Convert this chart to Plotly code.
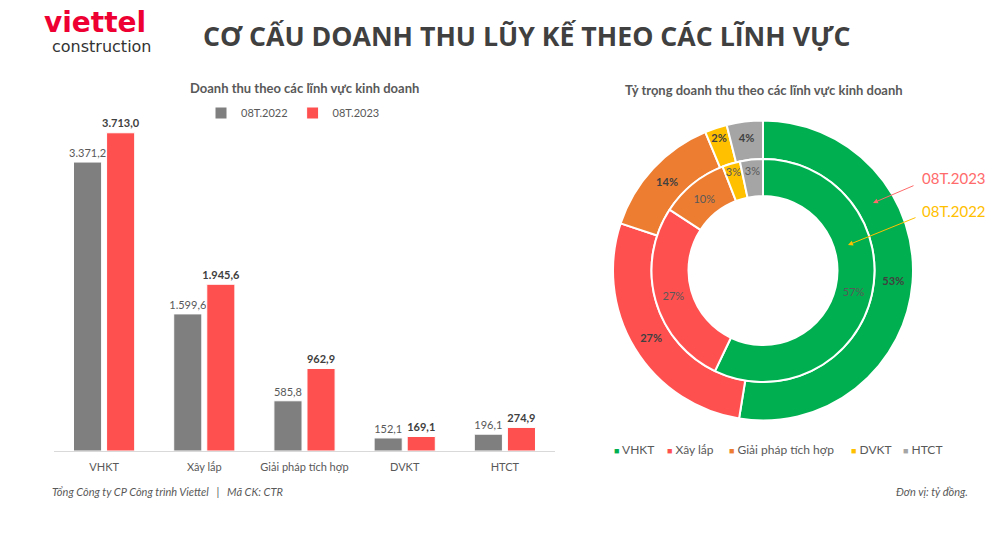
import plotly.graph_objects as go

# ---------------- data ----------------
categories = ["VHKT", "Xây lắp", "Giải pháp tích hợp", "DVKT", "HTCT"]
rev_2022 = [3371.2, 1599.6, 585.8, 152.1, 196.1]
rev_2023 = [3713.0, 1945.6, 962.9, 169.1, 274.9]
pct_2022 = ["57%", "27%", "10%", "3%", "3%"]
pct_2023 = ["53%", "27%", "14%", "2%", "4%"]
series_names = ["08T.2022", "08T.2023"]

W, H = 1000, 535
FONT = "Lato"
GRAY_TXT = "#595959"
DARK_TXT = "#404040"
bar_colors = ["#7f7f7f", "#ff5050"]
pie_colors = ["#00b050", "#ff5050", "#ed7d31", "#ffc000", "#a5a5a5"]


def vn(v):
    s = f"{v:,.1f}"
    return s.replace(",", "X").replace(".", ",").replace("X", ".")


def px(x):
    return x / W


def py(y):
    return 1 - y / H


fig = go.Figure()

# ---------------- bar chart ----------------
fig.add_trace(go.Bar(
    x=categories, y=rev_2022, name=series_names[0],
    marker=dict(color=bar_colors[0], line=dict(color="white", width=1)),
    text=[vn(v) for v in rev_2022], textposition="outside",
    textfont=dict(family=FONT, size=10, color=GRAY_TXT),
    constraintext="none", cliponaxis=False, legend="legend",
    hoverinfo="x+y",
))
fig.add_trace(go.Bar(
    x=categories, y=rev_2023, name=series_names[1],
    marker=dict(color=bar_colors[1], line=dict(color="white", width=1)),
    text=["<b>" + vn(v) + "</b>" for v in rev_2023], textposition="outside",
    textfont=dict(family=FONT, size=12, color=DARK_TXT),
    constraintext="none", cliponaxis=False, legend="legend",
    hoverinfo="x+y",
))

# ---------------- donut chart ----------------
cx, cy = 763, 270.5
r_out, r_mid, r_in = 150, 111.5, 74.5

fig.add_trace(go.Pie(
    labels=categories, values=rev_2023, name=series_names[1],
    hole=r_mid / r_out,
    domain=dict(x=[px(cx - r_out), px(cx + r_out)], y=[py(cy + r_out), py(cy - r_out)]),
    sort=False, direction="clockwise", rotation=0,
    marker=dict(colors=pie_colors, line=dict(color="white", width=2)),
    text=pct_2023, texttemplate="<b>%{text}</b>", textposition="inside",
    insidetextorientation="horizontal",
    textfont=dict(family=FONT, size=12, color=DARK_TXT),
    showlegend=False,
))
fig.add_trace(go.Pie(
    labels=categories, values=rev_2022, name=series_names[0],
    hole=r_in / r_mid,
    domain=dict(x=[px(cx - r_mid), px(cx + r_mid)], y=[py(cy + r_mid), py(cy - r_mid)]),
    sort=False, direction="clockwise", rotation=0,
    marker=dict(colors=pie_colors, line=dict(color="white", width=2)),
    text=pct_2022, texttemplate="%{text}", textposition="inside",
    insidetextorientation="horizontal",
    textfont=dict(family=FONT, size=11, color=GRAY_TXT),
    showlegend=False,
))


def note(text, x, y, size, color, xanchor="center", family=FONT, **kw):
    d = dict(text=text, x=px(x), y=py(y), xref="paper", yref="paper",
             xanchor=xanchor, yanchor="middle", showarrow=False,
             font=dict(family=family, size=size, color=color))
    d.update(kw)
    return d


annotations = [
    # logo
    note("<b>viettel</b>", 42, 22, 28, "#ee0033", xanchor="left", family="DejaVu Sans"),
    note("construction", 50, 46, 16, "#333333", xanchor="left", family="DejaVu Sans"),
    # main title
    note("<b>CƠ CẤU DOANH THU LŨY KẾ THEO CÁC LĨNH VỰC</b>", 527, 35, 26.7, DARK_TXT,
         family="Open Sans"),
    # subtitles
    note("<b>Doanh thu theo các lĩnh vực kinh doanh</b>", 304, 88, 13, GRAY_TXT),
    note("<b>Tỷ trọng doanh thu theo các lĩnh vực kinh doanh</b>", 764, 90, 13, GRAY_TXT),
    # footers
    note("<i>Tổng Công ty CP Công trình Viettel\u00a0\u00a0\u00a0|\u00a0\u00a0\u00a0Mã CK: CTR</i>",
         50, 491, 11, GRAY_TXT, xanchor="left"),
    note("<i>Đơn vị: tỷ đồng.</i>", 970, 491, 11, GRAY_TXT, xanchor="right"),
    # ring labels
    note("08T.2023", 920, 178, 15, "#ff6b6b", xanchor="left"),
    note("08T.2022", 920, 211, 15, "#ffc000", xanchor="left"),
    dict(text="", x=px(873), y=py(203), xref="paper", yref="paper", ax=42, ay=-18,
         showarrow=True, arrowhead=2, arrowsize=1, arrowwidth=1,
         arrowcolor="#ff6b6b", standoff=0),
    dict(text="", x=px(848), y=py(245), xref="paper", yref="paper", ax=69, ay=-28,
         showarrow=True, arrowhead=2, arrowsize=1, arrowwidth=1,
         arrowcolor="#ffc000", standoff=0),
]

# donut legend (compact, as in the reference)
legend_x = [612, 665, 727, 849, 901]
for lab, col, lx in zip(categories, pie_colors, legend_x):
    annotations.append(note(
        f"<span style='color:{col};font-size:9px'>■</span>\u00a0{lab}",
        lx, 449, 12, GRAY_TXT, xanchor="left"))

fig.update_layout(
    width=W, height=H,
    margin=dict(l=0, r=0, t=0, b=0, autoexpand=False),
    paper_bgcolor="white", plot_bgcolor="white",
    font=dict(family=FONT, color=GRAY_TXT),
    barmode="group", bargap=0.34, bargroupgap=0.15,
    uniformtext=dict(minsize=11, mode="show"),
    xaxis=dict(domain=[px(54), px(555)], type="category", range=[-0.5, 4.5],
               showline=True, linecolor="#d9d9d9", linewidth=1, ticks="",
               showgrid=False, tickangle=0, ticklabelstandoff=6,
               tickfont=dict(family=FONT, size=11, color=GRAY_TXT), fixedrange=True),
    yaxis=dict(domain=[py(451), py(99.6)], range=[0, 4100], visible=False,
               showgrid=False, zeroline=False, fixedrange=True),
    legend=dict(orientation="h", x=px(201), y=py(113), xanchor="left", yanchor="middle",
                font=dict(family=FONT, size=11, color=GRAY_TXT), itemwidth=30,
                bgcolor="rgba(0,0,0,0)"),
    annotations=annotations,
    showlegend=True,
)

fig.write_html("out.html")
